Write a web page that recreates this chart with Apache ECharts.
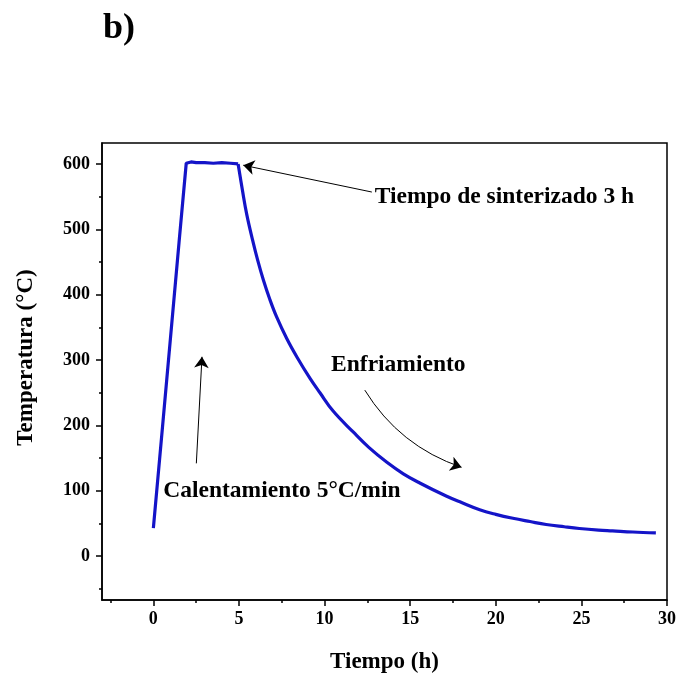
<!DOCTYPE html>
<html><head><meta charset="utf-8">
<script src="https://cdn.jsdelivr.net/npm/echarts@6/dist/echarts.min.js"></script>
<style>html,body{margin:0;padding:0;background:#fff}#c{width:687px;height:688px}</style>
</head><body><div id="c"></div>
<script>
// Data
var timeH = [0, 0.5, 1.0, 1.5, 1.92, 2.2, 2.5, 3.0, 3.5, 4.0, 4.5, 4.95,
  5.2, 5.46, 5.8, 6.1, 6.43, 6.8, 7.2, 7.79, 8.4, 9.15, 9.73, 10.5, 11.67, 12.6, 13.62, 14.6, 15.56, 17.1, 18.0, 19.06, 20.0, 21.0, 22.0, 22.94, 24.0, 24.88, 26.0, 26.82, 28.0, 29.35];
var tempC = [43, 188, 334, 480, 601, 603, 602, 602, 601, 602, 601, 600,
  560, 522, 483, 452, 422, 393, 366, 333, 304, 272, 250, 222, 190, 166, 144, 126, 112, 92, 82, 71, 64, 58, 53, 48.5, 45, 42.4, 40, 38.8, 37, 35.7];
var xMajorTicks = [0, 5, 10, 15, 20, 25, 30];
var xMinorTicks = [-2.5, 2.5, 7.5, 12.5, 17.5, 22.5, 27.5];
var yMajorTicks = [0, 100, 200, 300, 400, 500, 600];
var yMinorTicks = [-50, 50, 150, 250, 350, 450, 550];
var labelSinter = 'Tiempo de sinterizado 3 h';
var labelHeat = 'Calentamiento 5°C/min';
var labelCool = 'Enfriamiento';
var coolArrow = [[12.35, 254], [18.0, 136]];

var F = '"Liberation Serif","Times New Roman",serif';
var all = timeH.map(function (t, i) { return [t, tempC[i]]; });
var coolStart = timeH.indexOf(4.95);
var heatPart = all.slice(0, coolStart + 1);
var coolPart = all.slice(coolStart);
var xMin = -3, xMax = 30, yMin = -67, yMax = 632;
var LINE = { color: '#1414c8', width: 3.2 };

function txt(text, coord) {
  return { coord: coord, symbol: 'circle', symbolSize: 1, itemStyle: { color: 'rgba(0,0,0,0)' },
    label: { show: true, position: 'right', distance: 0, formatter: text, color: '#000', fontFamily: F, fontWeight: 'bold', fontSize: 23.5 } };
}

var chart = echarts.init(document.getElementById('c'), null, { renderer: 'canvas' });
chart.setOption({
  animation: false,
  backgroundColor: '#fff',
  title: { text: 'b)', left: 98, top: 6, textStyle: { fontFamily: F, fontWeight: 'bold', fontSize: 36, color: '#000' } },
  grid: { left: 102, top: 143, right: 20, bottom: 88, show: true, borderColor: '#000', borderWidth: 1.5, backgroundColor: 'transparent' },
  xAxis: [{
    type: 'value', min: xMin, max: xMax, position: 'bottom',
    name: 'Tiempo (h)', nameLocation: 'middle', nameGap: 51,
    nameTextStyle: { fontFamily: F, fontWeight: 'bold', fontSize: 23, color: '#000' },
    axisLine: { show: true, onZero: false, lineStyle: { color: '#000', width: 1.5 } },
    axisTick: { show: true, inside: false, length: 6, customValues: xMajorTicks, lineStyle: { color: '#000', width: 1.5 } },
    axisLabel: { show: true, customValues: xMajorTicks, margin: 10, fontFamily: F, fontWeight: 'bold', fontSize: 18, color: '#000' },
    splitLine: { show: false }
  }, {
    type: 'value', min: xMin, max: xMax, position: 'bottom', gridIndex: 0,
    axisLine: { show: false, onZero: false },
    axisTick: { show: true, inside: false, length: 3, customValues: xMinorTicks, lineStyle: { color: '#000', width: 1.5 } },
    axisLabel: { show: false }, splitLine: { show: false }
  }],
  yAxis: [{
    type: 'value', min: yMin, max: yMax, position: 'left',
    name: 'Temperatura (°C)', nameLocation: 'middle', nameGap: 64, nameRotate: 90,
    nameTextStyle: { fontFamily: F, fontWeight: 'bold', fontSize: 23, color: '#000', padding: [0, 0, 0, 28] },
    axisLine: { show: true, onZero: false, lineStyle: { color: '#000', width: 1.5 } },
    axisTick: { show: true, inside: false, length: 6, customValues: yMajorTicks, lineStyle: { color: '#000', width: 1.5 } },
    axisLabel: { show: true, customValues: yMajorTicks, margin: 12, fontFamily: F, fontWeight: 'bold', fontSize: 18, color: '#000' },
    splitLine: { show: false }
  }, {
    type: 'value', min: yMin, max: yMax, position: 'left',
    axisLine: { show: false, onZero: false },
    axisTick: { show: true, inside: false, length: 3, customValues: yMinorTicks, lineStyle: { color: '#000', width: 1.5 } },
    axisLabel: { show: false }, splitLine: { show: false }
  }],
  series: [{
    type: 'line', xAxisIndex: 0, yAxisIndex: 0, data: heatPart, showSymbol: false, symbol: 'none',
    lineStyle: LINE, smooth: false
  }, {
    type: 'line', xAxisIndex: 0, yAxisIndex: 0, data: coolPart, showSymbol: false, symbol: 'none',
    lineStyle: LINE, smooth: 0.4,
    markLine: {
      silent: true, symbol: ['none', 'arrow'], symbolSize: 11,
      lineStyle: { color: '#000', width: 1, type: 'solid' },
      label: { show: false },
      data: [
        [{ coord: [12.76, 557] }, { coord: [5.25, 598] }],
        [{ coord: [2.51, 142] }, { coord: [2.84, 305] }]
      ]
    },
    markPoint: {
      silent: true,
      data: [
        txt(labelSinter, [12.9, 550]),
        txt(labelHeat, [0.55, 100]),
        txt(labelCool, [10.35, 292])
      ]
    }
  }, {
    type: 'lines', coordinateSystem: 'cartesian2d', xAxisIndex: 0, yAxisIndex: 0, silent: true,
    symbol: ['none', 'arrow'], symbolSize: 11,
    lineStyle: { color: '#000', width: 1, type: 'solid', curveness: -0.18, opacity: 1 },
    data: [{ coords: coolArrow }]
  }]
});
</script></body></html>
